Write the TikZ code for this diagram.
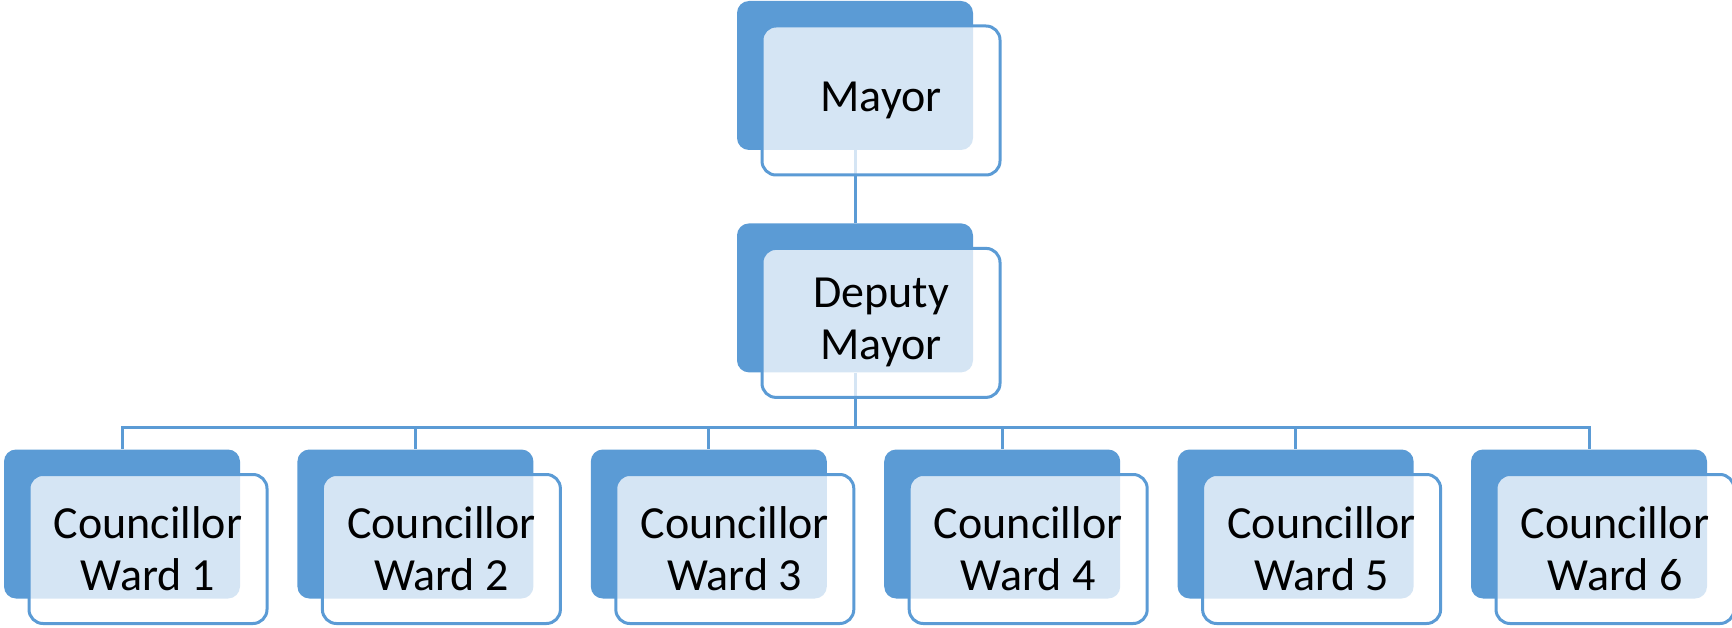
\documentclass[tikz,border=0pt]{standalone}
\usepackage{fontspec}
\setmainfont{Carlito}
\usetikzlibrary{positioning}
\usetikzlibrary{backgrounds}
\definecolor{officeblue}{HTML}{5B9BD5}
\tikzset{
backcard/.style = {rectangle, rounded corners=12pt, fill=officeblue,
                   minimum width=236pt, minimum height=149pt, inner sep=0pt},
frontcard/.style = {rectangle, rounded corners=14pt, draw=officeblue,
                    line width=3pt, fill=white, fill opacity=0.75,
                    text opacity=1, minimum width=238pt, minimum height=149pt,
                    inner sep=0pt, align=center,
                    font=\fontsize{46}{52}\selectfont},
link/.style = {draw=officeblue, line width=3pt}
}

\begin{document}
\begin{tikzpicture}[x=1pt, y=-1pt]
        \useasboundingbox (0,0) rectangle (1732,628);

        % shadow cards
        \node[backcard] (mayorback) at (855,75.5) {};
        \node[backcard, below=73pt of mayorback] (deputyback) {};
        \node[backcard] (c1back) at (122,524) {};
        \node[backcard, right=57pt of c1back] (c2back) {};
        \node[backcard, right=57pt of c2back] (c3back) {};
        \node[backcard, right=57pt of c3back] (c4back) {};
        \node[backcard, right=57pt of c4back] (c5back) {};
        \node[backcard, right=57pt of c5back] (c6back) {};

        % front cards
        \node[frontcard] (mayor) at ([shift={(26,25)}]mayorback) {Mayor};
        \node[frontcard] (deputy) at ([shift={(26,25)}]deputyback) {Deputy\\Mayor};
        \node[frontcard] (c1) at ([shift={(26,25)}]c1back) {Councillor\\Ward 1};
        \node[frontcard] (c2) at ([shift={(26,25)}]c2back) {Councillor\\Ward 2};
        \node[frontcard] (c3) at ([shift={(26,25)}]c3back) {Councillor\\Ward 3};
        \node[frontcard] (c4) at ([shift={(26,25)}]c4back) {Councillor\\Ward 4};
        \node[frontcard] (c5) at ([shift={(26,25)}]c5back) {Councillor\\Ward 5};
        \node[frontcard] (c6) at ([shift={(26,25)}]c6back) {Councillor\\Ward 6};

        \coordinate (bus) at (855,427);

        \begin{scope}[on background layer]
        \path[link]
        (mayorback.south) -- (deputyback.north)
        (deputyback.south) -- (bus)
        (bus) -| (c1back.north)
        (bus) -| (c2back.north)
        (bus) -| (c3back.north)
        (bus) -| (c4back.north)
        (bus) -| (c5back.north)
        (bus) -| (c6back.north);
        \end{scope}
\end{tikzpicture}
\end{document}
